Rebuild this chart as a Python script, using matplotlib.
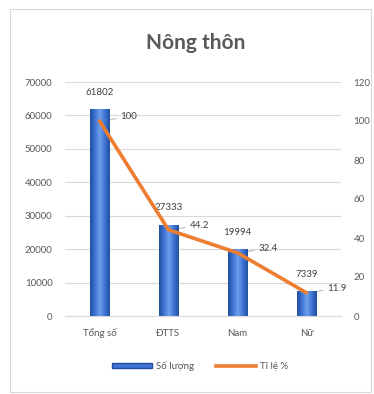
import numpy as np
import matplotlib.pyplot as plt
import matplotlib.patches as mpatches
import matplotlib.lines as mlines
from matplotlib.colors import LinearSegmentedColormap

plt.rcParams['font.family'] = ['Lato', 'DejaVu Sans']

categories = ['Tổng số', 'ĐTTS', 'Nam', 'Nữ']
so_luong = [61802, 27333, 19994, 7339]
ti_le = [100, 44.2, 32.4, 11.9]

txt = '#595959'
bar_cmap = LinearSegmentedColormap.from_list(
    'cyl', ['#21509E', '#3F74D4', '#6FA0EC', '#3F74D4', '#21509E'])

fig = plt.figure(figsize=(3.74, 3.94), dpi=100)
fig.patches.append(mpatches.Rectangle((10/374, 2/394), 361/374, 383/394,
                                      transform=fig.transFigure, fill=False,
                                      edgecolor='#D9D9D9', lw=0.8))

ax = fig.add_axes([65/374, 1 - 316/394, 276/374, 234/394])
ax2 = ax.twinx()

x = np.arange(len(categories))
w = 0.28
grad = np.linspace(0, 1, 64).reshape(1, -1)
bars = ax.bar(x, so_luong, width=w, color='none', zorder=2)
# fake cylinder shading on each bar
for b in bars:
    x0, y0 = b.get_x(), b.get_y()
    im = ax.imshow(grad, cmap=bar_cmap, aspect='auto', zorder=2,
                   extent=[x0, x0 + b.get_width(), y0, y0 + b.get_height()])
    im.set_clip_path(b)

for xi, v in zip(x, so_luong):
    ax.annotate(str(v), (xi, v), xytext=(0, 9), textcoords='offset points',
                ha='center', va='bottom', fontsize=7, color='#404040')

ax.set_xlim(-0.5, 3.5)
ax.set_ylim(0, 70000)
ax.set_yticks(range(0, 70001, 10000))
ax.grid(axis='y', color='#D9D9D9', lw=0.8)
ax.set_axisbelow(True)
ax.set_xticks(x)
ax.set_xticklabels(categories)
ax.tick_params(axis='y', length=0, labelsize=7, labelcolor=txt, pad=9)
ax.tick_params(axis='x', length=0, labelsize=7, labelcolor=txt, pad=9)
for s in ax.spines.values():
    s.set_visible(False)
ax.spines['bottom'].set_visible(True)
ax.spines['bottom'].set_color('#D9D9D9')

ax2.plot(x, ti_le, color='#ED7D31', lw=2.6, solid_joinstyle='round',
         solid_capstyle='round', zorder=3)
for xi, v in zip(x, ti_le):
    ax2.annotate(f'{v:g}', (xi, v), xytext=(15, 3), textcoords='offset points',
                 ha='left', va='center', fontsize=7, color='#404040',
                 arrowprops=dict(arrowstyle='-', color='#A6A6A6', lw=0.6,
                                 shrinkA=1, shrinkB=8))
ax2.set_ylim(0, 120)
ax2.set_yticks(range(0, 121, 20))
ax2.tick_params(axis='y', length=0, labelsize=7, labelcolor=txt, pad=9)
for s in ax2.spines.values():
    s.set_visible(False)

fig.text(196/374, 1 - 43/394, 'Nông thôn', ha='center', va='center',
         fontsize=15, fontweight='bold', color=txt)

bar_h = mpatches.Patch(facecolor='#3F74D4', edgecolor='#21509E', label='Số lượng')
line_h = mlines.Line2D([], [], color='#ED7D31', lw=2.6, label='Tỉ lệ %')
fig.legend(handles=[bar_h, line_h], loc='center', bbox_to_anchor=(200/374, 1 - 366/394),
           ncol=2, frameon=False, fontsize=7, labelcolor=txt, handlelength=4.2,
           handleheight=0.5, columnspacing=2.2, handletextpad=0.4)

fig.savefig('out.png', dpi=100)
